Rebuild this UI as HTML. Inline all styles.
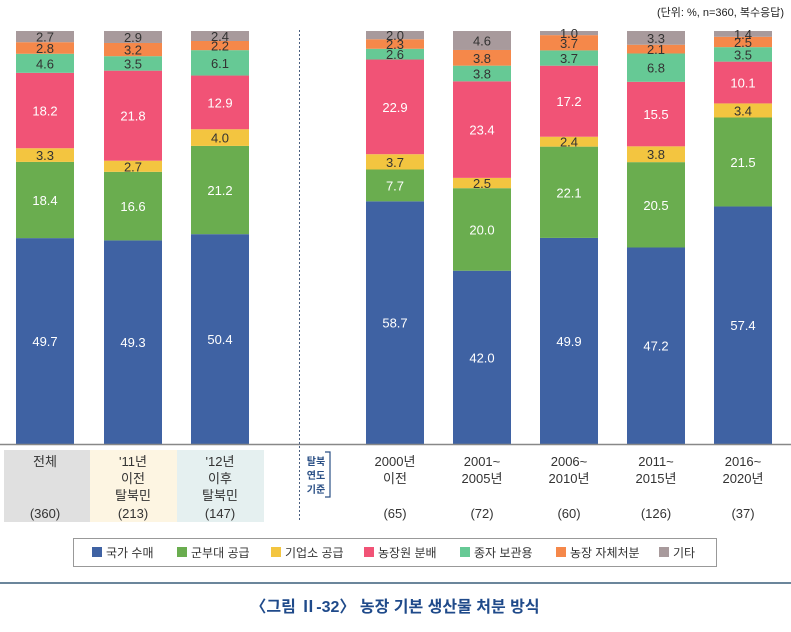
<!DOCTYPE html>
<html><head><meta charset="utf-8"><style>
body{margin:0;background:#fff;font-family:"Liberation Sans","Noto Sans CJK KR",sans-serif;}
#wrap{position:relative;width:791px;height:632px;overflow:hidden}
</style></head><body><div id="wrap">
<svg id="svg" width="791" height="632" xmlns="http://www.w3.org/2000/svg" font-family="Liberation Sans, Noto Sans CJK KR, sans-serif"></svg>
</div>
<script>
const categories=["전체","'11년 이전 탈북민","'12년 이후 탈북민","2000년 이전","2001~2005년","2006~2010년","2011~2015년","2016~2020년"];
const seriesNames=["국가 수매","군부대 공급","기업소 공급","농장원 분배","종자 보관용","농장 자체처분","기타"];
const colors=["#3f62a3","#6aad4f","#f3c540","#f15376","#66c995","#f5884a","#a89a9c"];
const textColors=["#fff","#fff","#333","#fff","#333","#333","#333"];
const s0=[49.7,49.3,50.4,58.7,42.0,49.9,47.2,57.4];
const s1=[18.4,16.6,21.2,7.7,20.0,22.1,20.5,21.5];
const s2=[3.3,2.7,4.0,3.7,2.5,2.4,3.8,3.4];
const s3=[18.2,21.8,12.9,22.9,23.4,17.2,15.5,10.1];
const s4=[4.6,3.5,6.1,2.6,3.8,3.7,6.8,3.5];
const s5=[2.8,3.2,2.2,2.3,3.8,3.7,2.1,2.5];
const s6=[2.7,2.9,2.4,2.0,4.6,1.0,3.3,1.4];
const series=[s0,s1,s2,s3,s4,s5,s6];
const barX=[16,104,191,366,453,540,627,714];
const NS="http://www.w3.org/2000/svg";
const svg=document.getElementById('svg');
function el(t,a,txt){const e=document.createElementNS(NS,t);for(const k in a)e.setAttribute(k,a[k]);if(txt!==undefined)e.textContent=txt;svg.appendChild(e);return e;}
const base=444,top0=31;
function yScale(v){return v*(base-top0)/100;}
let t=el('text',{x:784,y:16,'font-size':11,'text-anchor':'end',fill:'#222'},'(단위: %, n=360, 복수응답)');


categories.forEach((c,i)=>{
  const tot=series.reduce((a,s)=>a+s[i],0);
  let y=base;
  series.forEach((s,j)=>{
    const h=yScale(s[i])*100/tot;
    const r=el('rect',{x:barX[i],y:y-h,width:58,height:h,fill:colors[j]});
    
    
    const tx=el('text',{x:barX[i]+29,y:y-h/2+5,'font-size':13,'text-anchor':'middle',fill:textColors[j]},s[i].toFixed(1));
    
    
    y-=h;
  });
});
let ax=el('line',{x1:0,y1:444.5,x2:791,y2:444.5,stroke:'#888','stroke-width':1.5});


let dv=el('line',{x1:299.5,y1:30,x2:299.5,y2:522,stroke:'#4a5f80','stroke-dasharray':'2,2'});


const bgs=[[4,'#e0e0e0'],[90,'#fdf5e2'],[177,'#e5f0f0']];
bgs.forEach(b=>{const r=el('rect',{x:b[0],y:450,width:87,height:72,fill:b[1]});

});
const labelLines=[["전체"],["'11년","이전","탈북민"],["'12년","이후","탈북민"],["2000년","이전"],["2001~","2005년"],["2006~","2010년"],["2011~","2015년"],["2016~","2020년"]];
const counts=["(360)","(213)","(147)","(65)","(72)","(60)","(126)","(37)"];
labelLines.forEach((ls,i)=>{
  ls.forEach((l,k)=>{const tx=el('text',{x:barX[i]+29,y:466+k*17,'font-size':13,'text-anchor':'middle',fill:'#333'},l);
  
  });
  const n=el('text',{x:barX[i]+29,y:518,'font-size':13,'text-anchor':'middle',fill:'#333'},counts[i]);
  
  
});
["탈북","연도","기준"].forEach((l,k)=>{const tx=el('text',{x:316,y:465+k*14,'font-size':10,'font-weight':'bold','text-anchor':'middle',fill:'#2a4f85'},l);

});
let br=el('path',{d:'M325 452 H330 V497 H325',fill:'none',stroke:'#2a4f85','stroke-width':1.2});


let lg=el('rect',{x:73.5,y:538.5,width:643,height:28,fill:'#fff',stroke:'#999'});


const lgX=[92,177,271,364,460,556,659];
seriesNames.forEach((n,j)=>{
  const r=el('rect',{x:lgX[j],y:547,width:10,height:10,fill:colors[j]});
  
  
  const tx=el('text',{x:lgX[j]+14,y:557,'font-size':12,fill:'#333'},n);
  
  
});
let bl=el('line',{x1:0,y1:583,x2:791,y2:583,stroke:'#3a5f7a','stroke-width':1.5});


let ti=el('text',{x:395,y:612,'font-size':16,'font-weight':'bold','text-anchor':'middle',fill:'#1f4a8a'},'〈그림 Ⅱ-32〉 농장 기본 생산물 처분 방식');


</script></body></html>
